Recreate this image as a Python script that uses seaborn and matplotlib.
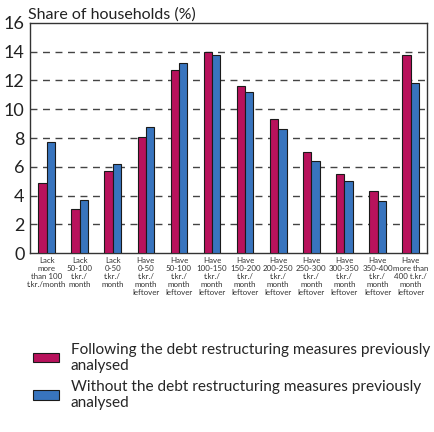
import matplotlib
matplotlib.use("Agg")
import seaborn as sns
import pandas as pd
import numpy as np
import matplotlib.pyplot as plt

# Data
categories = ["Lack\nmore\nthan 100\nt.kr./month", "Lack\n50-100\nt.kr./\nmonth",
              "Lack\n0-50\nt.kr./\nmonth", "Have\n0-50\nt.kr./\nmonth\nleftover",
              "Have\n50-100\nt.kr./\nmonth\nleftover", "Have\n100-150\nt.kr./\nmonth\nleftover",
              "Have\n150-200\nt.kr./\nmonth\nleftover", "Have\n200-250\nt.kr./\nmonth\nleftover",
              "Have\n250-300\nt.kr./\nmonth\nleftover", "Have\n300-350\nt.kr./\nmonth\nleftover",
              "Have\n350-400\nt.kr./\nmonth\nleftover", "Have\nmore than\n400 t.kr./\nmonth\nleftover"]
following = [4.9, 3.1, 5.7, 8.1, 12.7, 14.0, 11.6, 9.3, 7.0, 5.5, 4.3, 13.8]
without = [7.7, 3.7, 6.2, 8.8, 13.2, 13.8, 11.2, 8.6, 6.4, 5.0, 3.6, 11.8]
series = ["Following the debt restructuring measures previously\nanalysed",
          "Without the debt restructuring measures previously\nanalysed"]

df = pd.DataFrame({
    "category": categories * 2,
    "value": following + without,
    "series": [series[0]] * len(categories) + [series[1]] * len(categories),
})

sns.set_style("white")
plt.rcParams["font.family"] = ["Lato", "DejaVu Sans"]

fig = plt.figure(figsize=(4.35, 4.32), dpi=100)
ax = fig.add_axes([0.069, 0.414, 0.913, 0.533])

sns.barplot(data=df, x="category", y="value", hue="series",
            palette=["#B8125C", "#3874BE"], saturation=1, width=0.5, gap=0,
            edgecolor="#1a1a1a", linewidth=0.8, ax=ax, legend=True, zorder=3)

ax.set_ylim(0, 16)
ax.set_xlim(-0.5, len(categories) - 0.5)
ax.set_yticks(np.arange(0, 17, 2))
ax.tick_params(axis="y", labelsize=13, length=0, pad=4, colors="#222222")
for y in range(2, 16, 2):
    ax.axhline(y, color="#444444", lw=1.0, ls=(0, (5, 4)), zorder=1)

ax.set_xticks(range(len(categories)))
ax.set_xticklabels(categories, fontsize=5.7, linespacing=1.15, color="#333333")
ax.tick_params(axis="x", which="major", length=0, pad=3)
ax.set_xticks(np.arange(-0.5, len(categories)), minor=True)
ax.tick_params(axis="x", which="minor", length=6, width=1, color="#333333", direction="out")

for s in ax.spines.values():
    s.set_color("#333333")
    s.set_linewidth(1.0)

ax.set_xlabel("")
ax.set_ylabel("")
ax.text(-0.005, 1.005, "Share of households (%)", transform=ax.transAxes,
        fontsize=11.5, ha="left", va="bottom", color="#222222")

handles, labels = ax.get_legend_handles_labels()
ax.get_legend().remove()
fig.legend(handles, labels, loc="upper left", bbox_to_anchor=(0.076, 0.207),
           frameon=False, fontsize=11.1, handlelength=1.7, handleheight=0.55,
           handletextpad=0.75, labelspacing=0.45, borderaxespad=0, borderpad=0)

fig.savefig("out.png", dpi=100)
